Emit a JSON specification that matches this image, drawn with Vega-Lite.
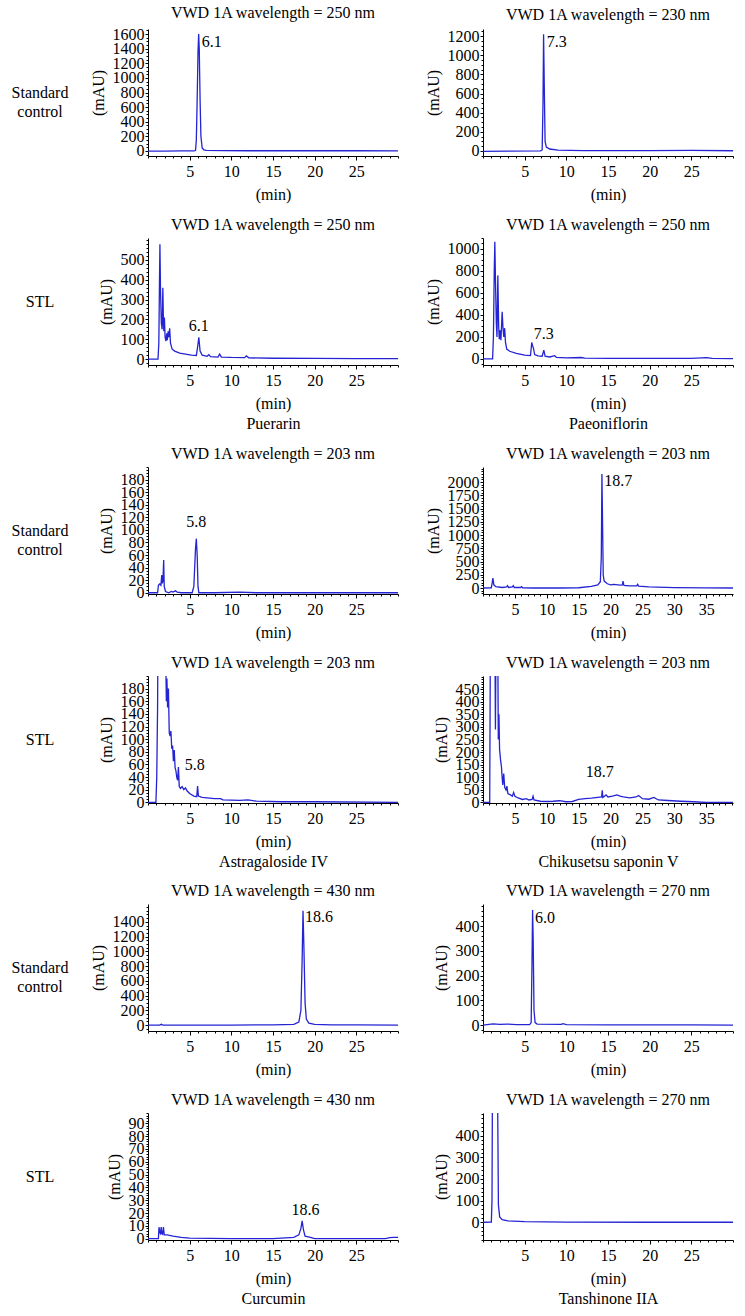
{
"$schema": "https://vega.github.io/schema/vega-lite/v6.json",
"background": "white",
"datasets": {
"p1": [{"t":0,"a":-2},{"t":2,"a":-2},{"t":4,"a":-1},{"t":5.5,"a":-1},{"t":5.7,"a":5},{"t":5.8,"a":150},{"t":5.9,"a":700},{"t":6.0,"a":1350},{"t":6.08,"a":1600},{"t":6.15,"a":1400},{"t":6.25,"a":700},{"t":6.35,"a":200},{"t":6.5,"a":40},{"t":6.7,"a":15},{"t":7,"a":8},{"t":9,"a":4},{"t":12,"a":2},{"t":20,"a":2},{"t":25,"a":2},{"t":30,"a":0}],
"p2": [{"t":0,"a":-5},{"t":3,"a":-3},{"t":6.9,"a":0},{"t":7.1,"a":10},{"t":7.2,"a":500},{"t":7.27,"a":1220},{"t":7.35,"a":700},{"t":7.45,"a":100},{"t":7.6,"a":40},{"t":8,"a":20},{"t":9,"a":8},{"t":12,"a":3},{"t":20,"a":3},{"t":25,"a":5},{"t":30,"a":2}],
"p3": [{"t":0,"a":0},{"t":1.2,"a":0},{"t":1.3,"a":80},{"t":1.38,"a":400},{"t":1.43,"a":580},{"t":1.5,"a":350},{"t":1.6,"a":180},{"t":1.7,"a":150},{"t":1.78,"a":360},{"t":1.85,"a":200},{"t":1.9,"a":140},{"t":1.97,"a":210},{"t":2.05,"a":110},{"t":2.15,"a":90},{"t":2.25,"a":130},{"t":2.32,"a":95},{"t":2.42,"a":140},{"t":2.5,"a":110},{"t":2.6,"a":155},{"t":2.7,"a":80},{"t":2.9,"a":50},{"t":3.2,"a":40},{"t":3.8,"a":30},{"t":4.5,"a":25},{"t":5.2,"a":20},{"t":5.8,"a":18},{"t":5.95,"a":60},{"t":6.1,"a":110},{"t":6.25,"a":40},{"t":6.5,"a":20},{"t":7.1,"a":14},{"t":7.3,"a":22},{"t":7.5,"a":12},{"t":8.4,"a":10},{"t":8.6,"a":25},{"t":8.8,"a":10},{"t":10,"a":8},{"t":11.6,"a":7},{"t":11.8,"a":16},{"t":12.1,"a":6},{"t":15,"a":4},{"t":20,"a":3},{"t":25,"a":2},{"t":30,"a":2}],
"p4": [{"t":0,"a":0},{"t":1.15,"a":0},{"t":1.25,"a":200},{"t":1.35,"a":800},{"t":1.42,"a":1065},{"t":1.5,"a":700},{"t":1.6,"a":320},{"t":1.68,"a":200},{"t":1.78,"a":760},{"t":1.88,"a":300},{"t":1.95,"a":180},{"t":2.05,"a":260},{"t":2.15,"a":170},{"t":2.3,"a":430},{"t":2.4,"a":280},{"t":2.5,"a":200},{"t":2.6,"a":280},{"t":2.7,"a":150},{"t":2.85,"a":90},{"t":3.2,"a":70},{"t":4,"a":50},{"t":5,"a":35},{"t":5.7,"a":30},{"t":5.85,"a":150},{"t":5.95,"a":120},{"t":6.05,"a":100},{"t":6.2,"a":40},{"t":6.6,"a":28},{"t":7.1,"a":25},{"t":7.3,"a":80},{"t":7.45,"a":25},{"t":8,"a":18},{"t":8.6,"a":30},{"t":8.8,"a":15},{"t":10,"a":10},{"t":11.8,"a":13},{"t":12.2,"a":7},{"t":15,"a":6},{"t":20,"a":5},{"t":25,"a":5},{"t":26.8,"a":12},{"t":27.5,"a":5},{"t":30,"a":3}],
"p5": [{"t":0,"a":0},{"t":1.15,"a":0},{"t":1.25,"a":12},{"t":1.4,"a":14},{"t":1.55,"a":12},{"t":1.65,"a":28},{"t":1.72,"a":15},{"t":1.8,"a":20},{"t":1.88,"a":52},{"t":1.95,"a":10},{"t":2.1,"a":2},{"t":2.5,"a":0},{"t":2.8,"a":2},{"t":3.0,"a":1},{"t":3.3,"a":3},{"t":3.5,"a":1},{"t":4,"a":0},{"t":5.3,"a":0},{"t":5.5,"a":10},{"t":5.7,"a":70},{"t":5.8,"a":86},{"t":5.9,"a":60},{"t":6.0,"a":10},{"t":6.1,"a":0},{"t":8,"a":0},{"t":11,"a":1},{"t":13,"a":0},{"t":30,"a":0}],
"p6": [{"t":0,"a":0},{"t":1.3,"a":5},{"t":1.45,"a":100},{"t":1.55,"a":185},{"t":1.7,"a":60},{"t":2,"a":25},{"t":3,"a":10},{"t":3.7,"a":20},{"t":3.85,"a":45},{"t":4,"a":10},{"t":4.6,"a":20},{"t":4.75,"a":45},{"t":4.9,"a":10},{"t":5.9,"a":10},{"t":6.05,"a":25},{"t":6.2,"a":5},{"t":8,"a":0},{"t":12,"a":0},{"t":15,"a":5},{"t":17,"a":30},{"t":18,"a":60},{"t":18.4,"a":120},{"t":18.55,"a":600},{"t":18.65,"a":2150},{"t":18.75,"a":1200},{"t":18.85,"a":250},{"t":19.0,"a":130},{"t":19.5,"a":80},{"t":20,"a":60},{"t":20.5,"a":70},{"t":21.5,"a":55},{"t":21.85,"a":60},{"t":21.95,"a":130},{"t":22.1,"a":50},{"t":23,"a":40},{"t":24.1,"a":40},{"t":24.25,"a":70},{"t":24.4,"a":35},{"t":26,"a":20},{"t":30,"a":8},{"t":35,"a":3},{"t":39.2,"a":0}],
"p7": [{"t":0,"a":0},{"t":0.95,"a":0},{"t":1.05,"a":40},{"t":1.15,"a":150},{"t":1.25,"a":400},{"t":1.4,"a":900},{"t":2.0,"a":600},{"t":2.15,"a":210},{"t":2.2,"a":160},{"t":2.27,"a":196},{"t":2.35,"a":150},{"t":2.45,"a":180},{"t":2.55,"a":110},{"t":2.65,"a":105},{"t":2.75,"a":113},{"t":2.85,"a":85},{"t":2.95,"a":90},{"t":3.05,"a":65},{"t":3.15,"a":83},{"t":3.25,"a":55},{"t":3.35,"a":50},{"t":3.45,"a":40},{"t":3.55,"a":35},{"t":3.65,"a":56},{"t":3.75,"a":25},{"t":3.9,"a":22},{"t":4.1,"a":25},{"t":4.3,"a":20},{"t":4.5,"a":23},{"t":4.7,"a":18},{"t":5.0,"a":14},{"t":5.5,"a":10},{"t":5.85,"a":9},{"t":5.95,"a":26},{"t":6.05,"a":10},{"t":6.5,"a":8},{"t":8,"a":6},{"t":8.7,"a":6},{"t":9,"a":4},{"t":11,"a":3},{"t":12,"a":4},{"t":13,"a":2},{"t":16,"a":1},{"t":20,"a":1},{"t":30,"a":0}],
"p8": [{"t":0,"a":0},{"t":1.05,"a":0},{"t":1.1,"a":300},{"t":1.2,"a":900},{"t":1.8,"a":900},{"t":1.95,"a":290},{"t":2.05,"a":700},{"t":2.3,"a":700},{"t":2.4,"a":250},{"t":2.5,"a":350},{"t":2.6,"a":210},{"t":2.75,"a":170},{"t":2.9,"a":140},{"t":3.0,"a":100},{"t":3.1,"a":70},{"t":3.25,"a":115},{"t":3.4,"a":60},{"t":3.6,"a":50},{"t":3.75,"a":65},{"t":3.9,"a":35},{"t":4.3,"a":30},{"t":4.6,"a":25},{"t":4.8,"a":40},{"t":5.0,"a":25},{"t":5.5,"a":18},{"t":6.2,"a":12},{"t":6.8,"a":15},{"t":7.2,"a":10},{"t":7.7,"a":12},{"t":7.85,"a":25},{"t":8.0,"a":10},{"t":9,"a":5},{"t":10,"a":4},{"t":11,"a":5},{"t":12,"a":7},{"t":13,"a":3},{"t":14,"a":4},{"t":15,"a":12},{"t":16,"a":15},{"t":17,"a":17},{"t":18,"a":20},{"t":18.6,"a":22},{"t":18.7,"a":48},{"t":18.8,"a":20},{"t":19.3,"a":30},{"t":19.6,"a":22},{"t":20.3,"a":25},{"t":21,"a":30},{"t":21.5,"a":25},{"t":22,"a":22},{"t":23,"a":18},{"t":24,"a":22},{"t":24.4,"a":28},{"t":25,"a":15},{"t":26,"a":13},{"t":26.8,"a":20},{"t":27.5,"a":10},{"t":29,"a":8},{"t":31,"a":5},{"t":33,"a":3},{"t":35,"a":0},{"t":39.2,"a":0}],
"p9": [{"t":0,"a":0},{"t":1.4,"a":0},{"t":1.6,"a":10},{"t":1.8,"a":0},{"t":5,"a":0},{"t":10,"a":0},{"t":15,"a":3},{"t":17.5,"a":10},{"t":18.1,"a":40},{"t":18.35,"a":200},{"t":18.5,"a":900},{"t":18.6,"a":1550},{"t":18.7,"a":1100},{"t":18.85,"a":300},{"t":19.0,"a":80},{"t":19.3,"a":25},{"t":20,"a":10},{"t":22,"a":3},{"t":25,"a":1},{"t":30,"a":0}],
"p10": [{"t":0,"a":0},{"t":1.2,"a":5},{"t":2,"a":3},{"t":3,"a":4},{"t":4,"a":2},{"t":5.6,"a":2},{"t":5.78,"a":10},{"t":5.88,"a":250},{"t":5.95,"a":465},{"t":6.02,"a":350},{"t":6.12,"a":60},{"t":6.25,"a":10},{"t":6.5,"a":4},{"t":9.4,"a":3},{"t":9.6,"a":6},{"t":10,"a":2},{"t":15,"a":1},{"t":25,"a":1},{"t":30,"a":0}],
"p11": [{"t":0,"a":0},{"t":1.25,"a":0},{"t":1.32,"a":9},{"t":1.4,"a":5},{"t":1.5,"a":4},{"t":1.58,"a":9},{"t":1.65,"a":4},{"t":1.75,"a":3.5},{"t":1.85,"a":9},{"t":1.95,"a":3},{"t":2.3,"a":3},{"t":3,"a":2},{"t":4,"a":1},{"t":5,"a":0.5},{"t":10,"a":0},{"t":15,"a":0},{"t":17.5,"a":1},{"t":18.1,"a":3},{"t":18.35,"a":8},{"t":18.5,"a":14},{"t":18.65,"a":7},{"t":18.85,"a":2},{"t":19.5,"a":1},{"t":20,"a":0},{"t":28.5,"a":0},{"t":29,"a":0.8},{"t":29.5,"a":1},{"t":30,"a":1}],
"p12": [{"t":0,"a":0},{"t":1.0,"a":1},{"t":1.08,"a":100},{"t":1.15,"a":800},{"t":1.25,"a":3000},{"t":1.6,"a":3000},{"t":1.75,"a":600},{"t":1.85,"a":80},{"t":2.0,"a":25},{"t":2.3,"a":12},{"t":3,"a":6},{"t":5,"a":3},{"t":10,"a":1},{"t":20,"a":0},{"t":30,"a":0}]
},
"spacing": 14,
"vconcat": [
{"hconcat": [
 {"width": 58, "height": 127, "data": {"values": [{"row": "Standard control"}]}, "mark": {"type": "text", "lineBreak": " ", "dx": 6, "lineHeight": 19}, "encoding": {"text": {"field": "row"}}},
 {"width": 250, "height": 127, "title": "VWD 1A wavelength = 250 nm",
  "layer": [
   {"data": {"name": "p1"}, "mark": {"type": "line", "clip": true},
    "encoding": {"x": {"field": "t", "type": "quantitative", "scale": {"domain": [0,30], "nice": false, "zero": false}, "axis": {"values": [5,10,15,20,25], "title": "(min)"}},
                 "y": {"field": "a", "type": "quantitative", "scale": {"domain": [-70,1670], "nice": false, "zero": false}, "axis": {"values": [0,200,400,600,800,1000,1200,1400,1600], "format": "d", "title": "(mAU)"}}}},
   {"data": {"values": [{"t": 6.1, "a": 1600, "label": "6.1"}]}, "mark": {"type": "text", "align": "left", "baseline": "top", "dx": 3},
    "encoding": {"x": {"field": "t", "type": "quantitative", "scale": {"domain": [0,30], "nice": false, "zero": false}, "axis": {"orient": "bottom", "tickCount": 30, "labels": false, "domain": false, "tickSize": 2, "title": null}},
                 "y": {"field": "a", "type": "quantitative", "scale": {"domain": [-70,1670], "nice": false, "zero": false}, "axis": {"orient": "left", "tickCount": 35, "labels": false, "domain": false, "tickSize": 2, "title": null}},
                 "text": {"field": "label"}}}
  ], "resolve": {"axis": {"x": "independent", "y": "independent"}}},
 {"width": 250, "height": 127, "title": "VWD 1A wavelength = 230 nm",
  "layer": [
   {"data": {"name": "p2"}, "mark": {"type": "line", "clip": true},
    "encoding": {"x": {"field": "t", "type": "quantitative", "scale": {"domain": [0,30], "nice": false, "zero": false}, "axis": {"values": [5,10,15,20,25], "title": "(min)"}},
                 "y": {"field": "a", "type": "quantitative", "scale": {"domain": [-53,1274], "nice": false, "zero": false}, "axis": {"values": [0,200,400,600,800,1000,1200], "format": "d", "title": "(mAU)"}}}},
   {"data": {"values": [{"t": 7.3, "a": 1220, "label": "7.3"}]}, "mark": {"type": "text", "align": "left", "baseline": "top", "dx": 3},
    "encoding": {"x": {"field": "t", "type": "quantitative", "scale": {"domain": [0,30], "nice": false, "zero": false}, "axis": {"orient": "bottom", "tickCount": 30, "labels": false, "domain": false, "tickSize": 2, "title": null}},
                 "y": {"field": "a", "type": "quantitative", "scale": {"domain": [-53,1274], "nice": false, "zero": false}, "axis": {"orient": "left", "tickCount": 27, "labels": false, "domain": false, "tickSize": 2, "title": null}},
                 "text": {"field": "label"}}}
  ], "resolve": {"axis": {"x": "independent", "y": "independent"}}}
], "spacing": 85, "bounds": "flush"},
{"hconcat": [
 {"width": 58, "height": 127, "data": {"values": [{"row": "STL"}]}, "mark": {"type": "text", "lineBreak": " ", "dx": 6, "lineHeight": 19}, "encoding": {"text": {"field": "row"}}},
 {"width": 250, "height": 127, "title": "VWD 1A wavelength = 250 nm",
  "layer": [
   {"data": {"name": "p3"}, "mark": {"type": "line", "clip": true},
    "encoding": {"x": {"field": "t", "type": "quantitative", "scale": {"domain": [0,30], "nice": false, "zero": false}, "axis": {"values": [5,10,15,20,25], "title": ["(min)", "Puerarin"]}},
                 "y": {"field": "a", "type": "quantitative", "scale": {"domain": [-30,611], "nice": false, "zero": false}, "axis": {"values": [0,100,200,300,400,500], "format": "d", "title": "(mAU)"}}}},
   {"data": {"values": [{"t": 6.1, "a": 125, "label": "6.1"}]}, "mark": {"type": "text", "align": "center", "baseline": "bottom"},
    "encoding": {"x": {"field": "t", "type": "quantitative", "scale": {"domain": [0,30], "nice": false, "zero": false}, "axis": {"orient": "bottom", "tickCount": 30, "labels": false, "domain": false, "tickSize": 2, "title": null}},
                 "y": {"field": "a", "type": "quantitative", "scale": {"domain": [-30,611], "nice": false, "zero": false}, "axis": {"orient": "left", "tickCount": 32, "labels": false, "domain": false, "tickSize": 2, "title": null}},
                 "text": {"field": "label"}}}
  ], "resolve": {"axis": {"x": "independent", "y": "independent"}}},
 {"width": 250, "height": 127, "title": "VWD 1A wavelength = 250 nm",
  "layer": [
   {"data": {"name": "p4"}, "mark": {"type": "line", "clip": true},
    "encoding": {"x": {"field": "t", "type": "quantitative", "scale": {"domain": [0,30], "nice": false, "zero": false}, "axis": {"values": [5,10,15,20,25], "title": ["(min)", "Paeoniflorin"]}},
                 "y": {"field": "a", "type": "quantitative", "scale": {"domain": [-55,1100], "nice": false, "zero": false}, "axis": {"values": [0,200,400,600,800,1000], "format": "d", "title": "(mAU)"}}}},
   {"data": {"values": [{"t": 7.3, "a": 155, "label": "7.3"}]}, "mark": {"type": "text", "align": "center", "baseline": "bottom"},
    "encoding": {"x": {"field": "t", "type": "quantitative", "scale": {"domain": [0,30], "nice": false, "zero": false}, "axis": {"orient": "bottom", "tickCount": 30, "labels": false, "domain": false, "tickSize": 2, "title": null}},
                 "y": {"field": "a", "type": "quantitative", "scale": {"domain": [-55,1100], "nice": false, "zero": false}, "axis": {"orient": "left", "tickCount": 23, "labels": false, "domain": false, "tickSize": 2, "title": null}},
                 "text": {"field": "label"}}}
  ], "resolve": {"axis": {"x": "independent", "y": "independent"}}}
], "spacing": 85, "bounds": "flush"},
{"hconcat": [
 {"width": 58, "height": 127, "data": {"values": [{"row": "Standard control"}]}, "mark": {"type": "text", "lineBreak": " ", "dx": 6, "lineHeight": 19}, "encoding": {"text": {"field": "row"}}},
 {"width": 250, "height": 127, "title": "VWD 1A wavelength = 203 nm",
  "layer": [
   {"data": {"name": "p5"}, "mark": {"type": "line", "clip": true},
    "encoding": {"x": {"field": "t", "type": "quantitative", "scale": {"domain": [0,30], "nice": false, "zero": false}, "axis": {"values": [5,10,15,20,25], "title": "(min)"}},
                 "y": {"field": "a", "type": "quantitative", "scale": {"domain": [-2,200], "nice": false, "zero": false}, "axis": {"values": [0,20,40,60,80,100,120,140,160,180], "format": "d", "title": "(mAU)"}}}},
   {"data": {"values": [{"t": 5.8, "a": 100, "label": "5.8"}]}, "mark": {"type": "text", "align": "center", "baseline": "bottom"},
    "encoding": {"x": {"field": "t", "type": "quantitative", "scale": {"domain": [0,30], "nice": false, "zero": false}, "axis": {"orient": "bottom", "tickCount": 30, "labels": false, "domain": false, "tickSize": 2, "title": null}},
                 "y": {"field": "a", "type": "quantitative", "scale": {"domain": [-2,200], "nice": false, "zero": false}, "axis": {"orient": "left", "tickCount": 40, "labels": false, "domain": false, "tickSize": 2, "title": null}},
                 "text": {"field": "label"}}}
  ], "resolve": {"axis": {"x": "independent", "y": "independent"}}},
 {"width": 250, "height": 127, "title": "VWD 1A wavelength = 203 nm",
  "layer": [
   {"data": {"name": "p6"}, "mark": {"type": "line", "clip": true},
    "encoding": {"x": {"field": "t", "type": "quantitative", "scale": {"domain": [0,39.2], "nice": false, "zero": false}, "axis": {"values": [5,10,15,20,25,30,35], "title": "(min)"}},
                 "y": {"field": "a", "type": "quantitative", "scale": {"domain": [-113,2283], "nice": false, "zero": false}, "axis": {"values": [0,250,500,750,1000,1250,1500,1750,2000], "format": "d", "title": "(mAU)"}}}},
   {"data": {"values": [{"t": 18.7, "a": 2170, "label": "18.7"}]}, "mark": {"type": "text", "align": "left", "baseline": "top", "dx": 2},
    "encoding": {"x": {"field": "t", "type": "quantitative", "scale": {"domain": [0,39.2], "nice": false, "zero": false}, "axis": {"orient": "bottom", "tickCount": 39, "labels": false, "domain": false, "tickSize": 2, "title": null}},
                 "y": {"field": "a", "type": "quantitative", "scale": {"domain": [-113,2283], "nice": false, "zero": false}, "axis": {"orient": "left", "tickCount": 48, "labels": false, "domain": false, "tickSize": 2, "title": null}},
                 "text": {"field": "label"}}}
  ], "resolve": {"axis": {"x": "independent", "y": "independent"}}}
], "spacing": 85, "bounds": "flush"},
{"hconcat": [
 {"width": 58, "height": 127, "data": {"values": [{"row": "STL"}]}, "mark": {"type": "text", "lineBreak": " ", "dx": 6, "lineHeight": 19}, "encoding": {"text": {"field": "row"}}},
 {"width": 250, "height": 127, "title": "VWD 1A wavelength = 203 nm",
  "layer": [
   {"data": {"name": "p7"}, "mark": {"type": "line", "clip": true},
    "encoding": {"x": {"field": "t", "type": "quantitative", "scale": {"domain": [0,30], "nice": false, "zero": false}, "axis": {"values": [5,10,15,20,25], "title": ["(min)", "Astragaloside IV"]}},
                 "y": {"field": "a", "type": "quantitative", "scale": {"domain": [-1,200], "nice": false, "zero": false}, "axis": {"values": [0,20,40,60,80,100,120,140,160,180], "format": "d", "title": "(mAU)"}}}},
   {"data": {"values": [{"t": 5.6, "a": 47, "label": "5.8"}]}, "mark": {"type": "text", "align": "center", "baseline": "bottom"},
    "encoding": {"x": {"field": "t", "type": "quantitative", "scale": {"domain": [0,30], "nice": false, "zero": false}, "axis": {"orient": "bottom", "tickCount": 30, "labels": false, "domain": false, "tickSize": 2, "title": null}},
                 "y": {"field": "a", "type": "quantitative", "scale": {"domain": [-1,200], "nice": false, "zero": false}, "axis": {"orient": "left", "tickCount": 40, "labels": false, "domain": false, "tickSize": 2, "title": null}},
                 "text": {"field": "label"}}}
  ], "resolve": {"axis": {"x": "independent", "y": "independent"}}},
 {"width": 250, "height": 127, "title": "VWD 1A wavelength = 203 nm",
  "layer": [
   {"data": {"name": "p8"}, "mark": {"type": "line", "clip": true},
    "encoding": {"x": {"field": "t", "type": "quantitative", "scale": {"domain": [0,39.2], "nice": false, "zero": false}, "axis": {"values": [5,10,15,20,25,30,35], "title": ["(min)", "Chikusetsu saponin V"]}},
                 "y": {"field": "a", "type": "quantitative", "scale": {"domain": [-2,502], "nice": false, "zero": false}, "axis": {"values": [0,50,100,150,200,250,300,350,400,450], "format": "d", "title": "(mAU)"}}}},
   {"data": {"values": [{"t": 18.3, "a": 90, "label": "18.7"}]}, "mark": {"type": "text", "align": "center", "baseline": "bottom"},
    "encoding": {"x": {"field": "t", "type": "quantitative", "scale": {"domain": [0,39.2], "nice": false, "zero": false}, "axis": {"orient": "bottom", "tickCount": 39, "labels": false, "domain": false, "tickSize": 2, "title": null}},
                 "y": {"field": "a", "type": "quantitative", "scale": {"domain": [-2,502], "nice": false, "zero": false}, "axis": {"orient": "left", "tickCount": 50, "labels": false, "domain": false, "tickSize": 2, "title": null}},
                 "text": {"field": "label"}}}
  ], "resolve": {"axis": {"x": "independent", "y": "independent"}}}
], "spacing": 85, "bounds": "flush"},
{"hconcat": [
 {"width": 58, "height": 127, "data": {"values": [{"row": "Standard control"}]}, "mark": {"type": "text", "lineBreak": " ", "dx": 6, "lineHeight": 19}, "encoding": {"text": {"field": "row"}}},
 {"width": 250, "height": 127, "title": "VWD 1A wavelength = 430 nm",
  "layer": [
   {"data": {"name": "p9"}, "mark": {"type": "line", "clip": true},
    "encoding": {"x": {"field": "t", "type": "quantitative", "scale": {"domain": [0,30], "nice": false, "zero": false}, "axis": {"values": [5,10,15,20,25], "title": "(min)"}},
                 "y": {"field": "a", "type": "quantitative", "scale": {"domain": [-81,1642], "nice": false, "zero": false}, "axis": {"values": [0,200,400,600,800,1000,1200,1400], "format": "d", "title": "(mAU)"}}}},
   {"data": {"values": [{"t": 18.6, "a": 1570, "label": "18.6"}]}, "mark": {"type": "text", "align": "left", "baseline": "top", "dx": 2},
    "encoding": {"x": {"field": "t", "type": "quantitative", "scale": {"domain": [0,30], "nice": false, "zero": false}, "axis": {"orient": "bottom", "tickCount": 30, "labels": false, "domain": false, "tickSize": 2, "title": null}},
                 "y": {"field": "a", "type": "quantitative", "scale": {"domain": [-81,1642], "nice": false, "zero": false}, "axis": {"orient": "left", "tickCount": 34, "labels": false, "domain": false, "tickSize": 2, "title": null}},
                 "text": {"field": "label"}}}
  ], "resolve": {"axis": {"x": "independent", "y": "independent"}}},
 {"width": 250, "height": 127, "title": "VWD 1A wavelength = 270 nm",
  "layer": [
   {"data": {"name": "p10"}, "mark": {"type": "line", "clip": true},
    "encoding": {"x": {"field": "t", "type": "quantitative", "scale": {"domain": [0,30], "nice": false, "zero": false}, "axis": {"values": [5,10,15,20,25], "title": "(min)"}},
                 "y": {"field": "a", "type": "quantitative", "scale": {"domain": [-24,489], "nice": false, "zero": false}, "axis": {"values": [0,100,200,300,400], "format": "d", "title": "(mAU)"}}}},
   {"data": {"values": [{"t": 6.0, "a": 465, "label": "6.0"}]}, "mark": {"type": "text", "align": "left", "baseline": "top", "dx": 2},
    "encoding": {"x": {"field": "t", "type": "quantitative", "scale": {"domain": [0,30], "nice": false, "zero": false}, "axis": {"orient": "bottom", "tickCount": 30, "labels": false, "domain": false, "tickSize": 2, "title": null}},
                 "y": {"field": "a", "type": "quantitative", "scale": {"domain": [-24,489], "nice": false, "zero": false}, "axis": {"orient": "left", "tickCount": 26, "labels": false, "domain": false, "tickSize": 2, "title": null}},
                 "text": {"field": "label"}}}
  ], "resolve": {"axis": {"x": "independent", "y": "independent"}}}
], "spacing": 85, "bounds": "flush"},
{"hconcat": [
 {"width": 58, "height": 127, "data": {"values": [{"row": "STL"}]}, "mark": {"type": "text", "lineBreak": " ", "dx": 6, "lineHeight": 19}, "encoding": {"text": {"field": "row"}}},
 {"width": 250, "height": 127, "title": "VWD 1A wavelength = 430 nm",
  "layer": [
   {"data": {"name": "p11"}, "mark": {"type": "line", "clip": true},
    "encoding": {"x": {"field": "t", "type": "quantitative", "scale": {"domain": [0,30], "nice": false, "zero": false}, "axis": {"values": [5,10,15,20,25], "title": ["(min)", "Curcumin"]}},
                 "y": {"field": "a", "type": "quantitative", "scale": {"domain": [-1,98], "nice": false, "zero": false}, "axis": {"values": [0,10,20,30,40,50,60,70,80,90], "format": "d", "title": "(mAU)"}}}},
   {"data": {"values": [{"t": 18.9, "a": 16, "label": "18.6"}]}, "mark": {"type": "text", "align": "center", "baseline": "bottom"},
    "encoding": {"x": {"field": "t", "type": "quantitative", "scale": {"domain": [0,30], "nice": false, "zero": false}, "axis": {"orient": "bottom", "tickCount": 30, "labels": false, "domain": false, "tickSize": 2, "title": null}},
                 "y": {"field": "a", "type": "quantitative", "scale": {"domain": [-1,98], "nice": false, "zero": false}, "axis": {"orient": "left", "tickCount": 49, "labels": false, "domain": false, "tickSize": 2, "title": null}},
                 "text": {"field": "label"}}}
  ], "resolve": {"axis": {"x": "independent", "y": "independent"}}},
 {"width": 250, "height": 127, "title": "VWD 1A wavelength = 270 nm",
  "layer": [
   {"data": {"name": "p12"}, "mark": {"type": "line", "clip": true},
    "encoding": {"x": {"field": "t", "type": "quantitative", "scale": {"domain": [0,30], "nice": false, "zero": false}, "axis": {"values": [5,10,15,20,25], "title": ["(min)", "Tanshinone IIA"]}},
                 "y": {"field": "a", "type": "quantitative", "scale": {"domain": [-82,505], "nice": false, "zero": false}, "axis": {"values": [0,100,200,300,400], "format": "d", "title": "(mAU)"}}}},
   {"data": {"values": []}, "mark": {"type": "text"},
    "encoding": {"x": {"field": "t", "type": "quantitative", "scale": {"domain": [0,30], "nice": false, "zero": false}, "axis": {"orient": "bottom", "tickCount": 30, "labels": false, "domain": false, "tickSize": 2, "title": null}},
                 "y": {"field": "a", "type": "quantitative", "scale": {"domain": [-82,505], "nice": false, "zero": false}, "axis": {"orient": "left", "tickCount": 29, "labels": false, "domain": false, "tickSize": 2, "title": null}},
                 "text": {"field": "label"}}}
  ], "resolve": {"axis": {"x": "independent", "y": "independent"}}}
], "spacing": 85, "bounds": "flush"}
],
"config": {
 "view": {"stroke": null},
 "font": "Liberation Serif",
 "line": {"color": "#2424d4", "strokeWidth": 1.3},
 "text": {"font": "Liberation Serif", "fontSize": 16, "color": "#000000"},
 "axis": {"domainColor": "#000000", "tickColor": "#000000", "labelColor": "#000000", "titleColor": "#000000", "labelFont": "Liberation Serif", "titleFont": "Liberation Serif", "labelFontSize": 16, "titleFontSize": 16, "titleFontWeight": "normal", "grid": false, "labelOverlap": false, "labelFlush": false, "domainWidth": 1, "tickWidth": 1, "titleLineHeight": 20},
 "axisX": {"tickSize": 4, "labelPadding": 3, "titlePadding": 7},
 "axisY": {"tickSize": 3, "labelPadding": 1, "titlePadding": 6},
 "title": {"font": "Liberation Serif", "fontSize": 16, "fontWeight": "normal", "color": "#000000", "offset": 5, "anchor": "middle", "frame": "group"}
}
}
